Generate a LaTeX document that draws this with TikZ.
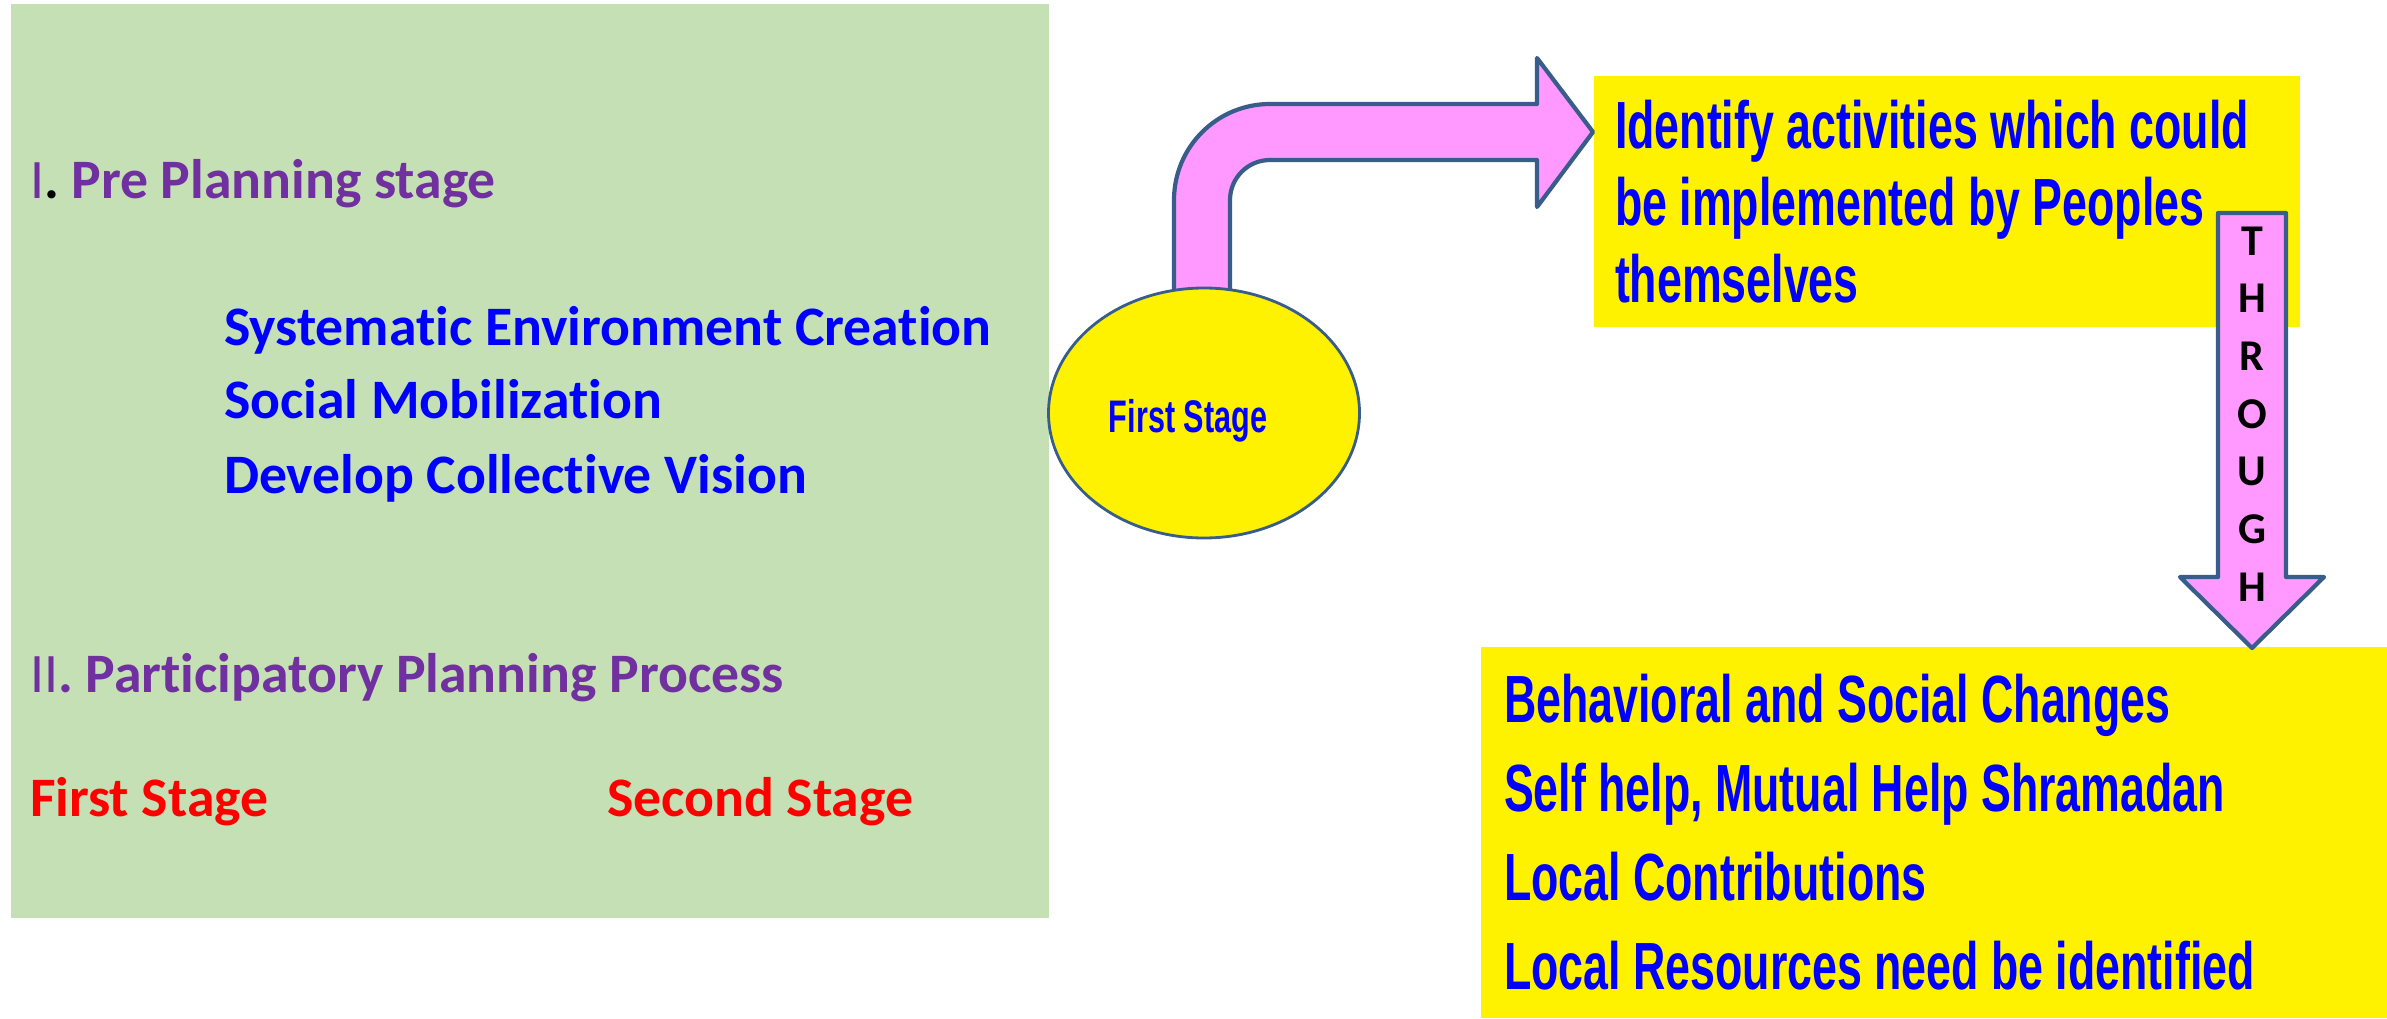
\documentclass[tikz,border=0pt]{standalone}
\usepackage{fontspec}
\setmainfont{Carlito}[Ligatures=NoCommon]
\newfontfamily\condfont[FakeStretch=0.67]{Liberation Sans}
\usepackage{xcolor}
\usetikzlibrary{shapes.geometric}

\definecolor{panelgreen}{HTML}{C5E0B4}
\definecolor{plum}{HTML}{7030A0}
\definecolor{shapeline}{HTML}{385D8A}
\definecolor{pinkfill}{HTML}{FF99FF}

\begin{document}
\begin{tikzpicture}[
  every node/.style={inner sep=0pt, outer sep=0pt},
  panel/.style={fill=panelgreen, anchor=south west},
  hl/.style={fill=yellow, anchor=south west},
  blk/.style={fill=pinkfill, draw=shapeline, line width=1.2pt, line join=round},
  lft/.style={anchor=base west, font=\fontsize{15.85}{19}\selectfont\bfseries},
  cond/.style={anchor=base west, text=blue, font=\condfont\fontsize{19}{23}\selectfont\bfseries}
]
\useasboundingbox (0,0) rectangle (23.87,10.18);

%% backgrounds
\node[panel, minimum width=10.38cm, minimum height=9.14cm] (pnl) at (0.11,1.00) {};
\node[hl, minimum width=7.06cm, minimum height=2.51cm] (act) at (15.94,6.91) {};
\node[hl, minimum width=9.06cm, minimum height=3.71cm] (res) at (14.81,0) {};

%% left panel text
\node[lft, text=plum] (pre) at (0.30,8.20) {{\mdseries I}\textcolor{black}{.} Pre Planning stage};
\node[lft, text=blue] (sys) at (2.24,6.73) {Systematic Environment Creation};
\node[lft, text=blue] (soc) at (2.24,6.00) {Social Mobilization};
\node[lft, text=blue] (dev) at (2.24,5.25) {Develop Collective Vision};
\node[lft, text=plum] (ppp) at (0.30,3.26) {{\mdseries II}. Participatory Planning Process};
\node[lft, text=red] (fst) at (0.30,2.02) {First Stage};
\node[lft, text=red] (snd) at (6.07,2.02) {Second Stage};

%% bent arrow out of the stage bubble
\draw[blk] (11.74,7.26) -- (11.74,8.18) arc[start angle=180, end angle=90, radius=0.96]
  -- (15.37,9.14) -- (15.37,9.60) -- (15.93,8.86) -- (15.37,8.11) -- (15.37,8.58)
  -- (12.70,8.58) arc[start angle=90, end angle=180, radius=0.40] -- (12.30,7.26) -- cycle;
\node[ellipse, draw=shapeline, line width=0.8pt, fill=yellow,
      minimum width=3.11cm, minimum height=2.50cm] (stage) at (12.04,6.05) {};
\node[cond, anchor=base, font=\condfont\fontsize{13}{16}\selectfont\bfseries] (stagelbl) at (11.88,5.86) {First Stage};

%% top right box
\node[cond] (act1) at (16.15,8.69) {Identify activities which could};
\node[cond] (act2) at (16.15,7.93) {be implemented by Peoples};
\node[cond] (act3) at (16.15,7.16) {themselves};

%% bottom right box
\node[cond] (res1) at (15.04,2.96) {Behavioral and Social Changes};
\node[cond] (res2) at (15.04,2.07) {Self help, Mutual Help Shramadan};
\node[cond] (res3) at (15.04,1.18) {Local Contributions};
\node[cond] (res4) at (15.04,0.29) {Local Resources need be identified};

%% down arrow between the boxes
\draw[blk] (22.18,8.05) -- (22.86,8.05) -- (22.86,4.41) -- (23.24,4.41) -- (22.52,3.70)
  -- (21.80,4.41) -- (22.18,4.41) -- cycle;
\node[align=center, font=\fontsize{12.5}{16.42}\selectfont\bfseries] (thru) at (22.52,6.04) {T\\H\\R\\O\\U\\G\\H};
\end{tikzpicture}
\end{document}
